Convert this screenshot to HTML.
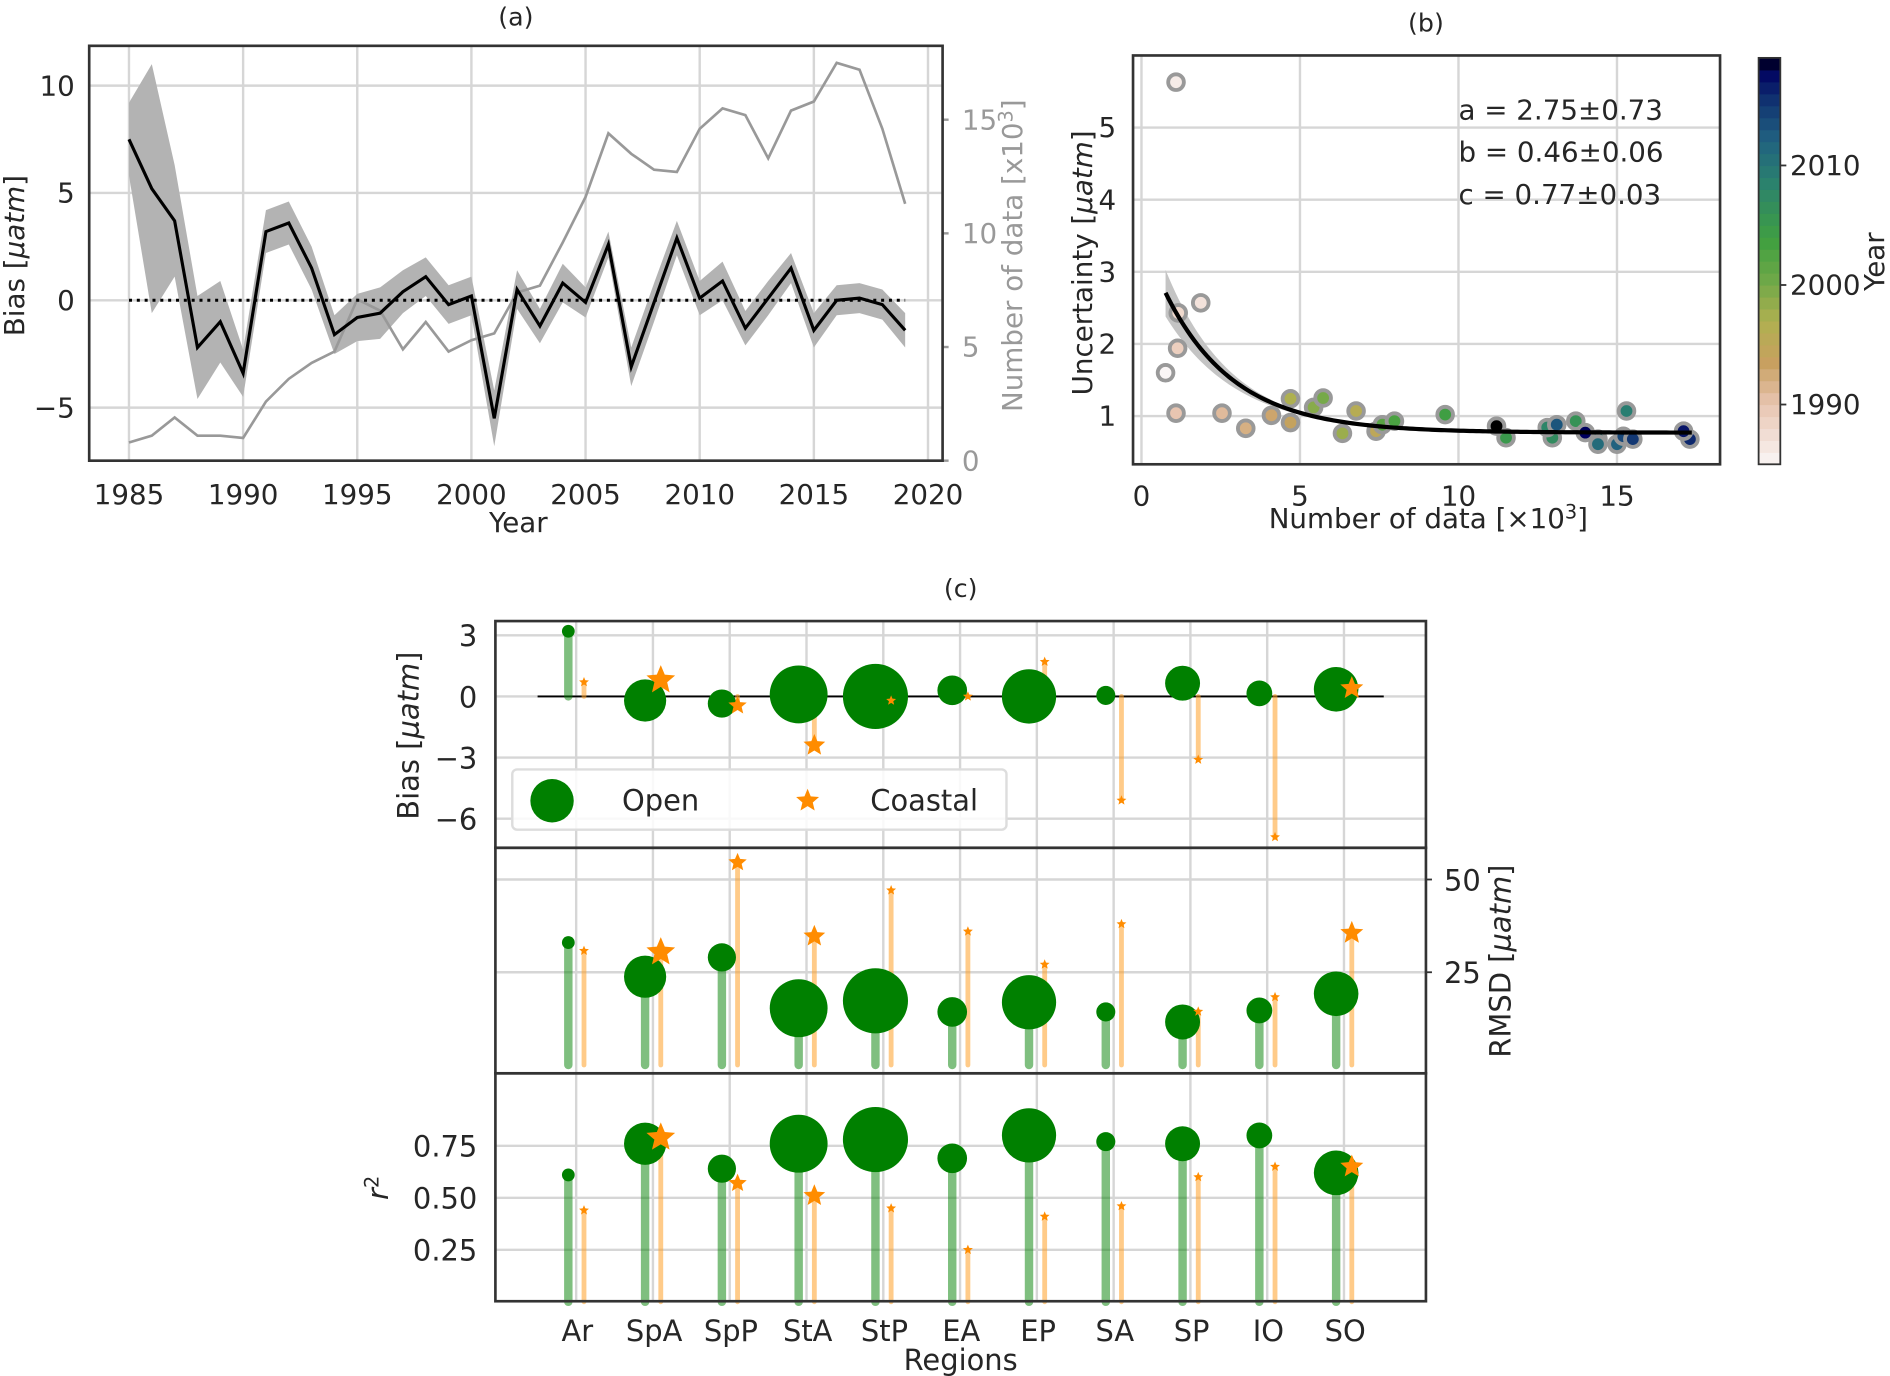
<!DOCTYPE html>
<html><head><meta charset="utf-8"><style>
html,body{margin:0;padding:0;background:#fff}
svg{display:block}
text{font-family:"DejaVu Sans","Liberation Sans",sans-serif;fill:#262626}
</style></head><body>
<svg id="fig" xmlns="http://www.w3.org/2000/svg" width="1890" height="1376" viewBox="0 0 1568 1141" preserveAspectRatio="none"></svg>
<script>
// ---------- Panel (a) data ----------
const years = [1985,1986,1987,1988,1989,1990,1991,1992,1993,1994,1995,1996,1997,1998,1999,2000,2001,2002,2003,2004,2005,2006,2007,2008,2009,2010,2011,2012,2013,2014,2015,2016,2017,2018,2019];
const biasVals = [7.5,5.2,3.7,-2.2,-1.0,-3.4,3.2,3.6,1.5,-1.6,-0.8,-0.6,0.4,1.1,-0.2,0.2,-5.5,0.5,-1.2,0.8,-0.1,2.6,-3.1,-0.1,2.9,0.1,0.9,-1.3,0.1,1.5,-1.4,0.0,0.1,-0.2,-1.4];
const biasErr = [1.7,5.8,2.6,2.4,1.9,1.1,1.0,1.0,1.0,0.9,1.1,1.2,1.0,0.9,0.9,0.9,1.3,0.9,0.8,0.9,0.7,0.6,0.9,0.9,0.8,0.8,0.9,0.8,0.8,0.7,0.8,0.7,0.7,0.7,0.8];
const countVals = [0.8,1.1,1.9,1.1,1.1,1.0,2.6,3.6,4.3,4.8,7.1,6.6,4.9,6.1,4.8,5.3,5.6,7.4,7.7,9.6,11.6,14.4,13.5,12.8,12.7,14.6,15.5,15.2,13.3,15.4,15.8,17.5,17.2,14.6,11.3];
const aLeftTicks = [-5,0,5,10];
const aRightTicks = [0,5,10,15];
const aXTicks = [1985,1990,1995,2000,2005,2010,2015,2020];
// ---------- Panel (b) data ----------
const ptsX = [0.76,1.09,1.87,1.16,1.14,1.09,2.54,3.29,4.1,4.7,7.4,6.77,4.7,6.34,5.43,5.73,7.6,7.98,9.58,11.5,13.7,12.96,12.8,15.3,14.4,14.4,15.0,13.1,15.2,15.5,17.3,17.1,14.0,11.2];
const ptsY = [1.60,5.63,2.57,2.43,1.94,1.04,1.04,0.83,1.01,0.91,0.79,1.07,1.24,0.76,1.12,1.25,0.88,0.93,1.02,0.70,0.93,0.70,0.84,1.07,0.68,0.61,0.61,0.88,0.72,0.68,0.68,0.79,0.77,0.86];
const ptsYear = [1985,1986,1987,1988,1989,1990,1991,1992,1993,1994,1995,1996,1997,1998,1999,2000,2002,2003,2004,2005,2006,2007,2008,2009,2010,2011,2012,2013,2014,2015,2016,2017,2018,2019];
const fitA = 2.75, fitB = 0.46, fitC = 0.77;
const bXTicks = [0,5,10,15];
const bYTicks = [1,2,3,4,5];
const cbTicks = [1990,2000,2010];
// ---------- Panel (c) data ----------
const regions = ["Ar","SpA","SpP","StA","StP","EA","EP","SA","SP","IO","SO"];
const openBias = [3.2,-0.2,-0.35,0.1,0.0,0.3,0.0,0.05,0.65,0.15,0.35];
const coastBias = [0.7,0.8,-0.45,-2.4,-0.2,0.0,1.7,-5.1,-3.1,-6.9,0.4];
const openRmsd = [33,23.8,29,15.3,17.3,14.3,16.9,14.3,11.6,14.7,19.2];
const coastRmsd = [30.8,30.4,54.6,34.7,47.1,36,27.1,38,14.4,18.3,35.6];
const openR2 = [0.61,0.76,0.64,0.76,0.78,0.69,0.80,0.77,0.76,0.80,0.62];
const coastR2 = [0.44,0.79,0.57,0.51,0.45,0.25,0.41,0.46,0.60,0.65,0.65];
const openSize = [5.3,17.5,11.7,24,27,12.3,22.5,7.9,14.5,10.7,18.5];
const coastSize = [4.3,12.5,8,9.5,4.3,4.3,4.3,4.3,4.3,4.3,10];
const biasTicks = [3,0,-3,-6];
const rmsdTicks = [25,50];
const r2Ticks = [0.25,0.5,0.75];

const NS="http://www.w3.org/2000/svg";
const svg=document.getElementById('fig');
function el(tag,attrs,parent){const e=document.createElementNS(NS,tag);for(const k in attrs)e.setAttribute(k,attrs[k]);(parent||svg).appendChild(e);return e;}
function txt(s,attrs,parent){const e=el('text',attrs,parent);e.textContent=s;return e;}
const GRID="#d6d6d6";

// ================= Panel (a) =================
const A={x0:74,x1:782,y0:38,y1:382};
const ax=y=>107+(y-1985)*18.94;
const ayL=v=>249-v*17.8;
const ayR=v=>382-v*18.85;
const gA=el('g',{});


aXTicks.forEach(t=>{const l=el('line',{x1:ax(t),x2:ax(t),y1:A.y0,y2:A.y1,stroke:GRID,'stroke-width':2},gA);
 const tl=txt(String(t),{x:ax(t),y:418,'text-anchor':'middle','font-size':23},gA);});
aLeftTicks.forEach(t=>{const l=el('line',{x1:A.x0,x2:A.x1,y1:ayL(t),y2:ayL(t),stroke:GRID,'stroke-width':2},gA);
 const tl=txt(t<0?'\u2212'+(-t):String(t),{x:62,y:ayL(t)+8,'text-anchor':'end','font-size':23},gA);});
aRightTicks.forEach(t=>{const tl=txt(String(t),{x:798,y:ayR(t)+8,'text-anchor':'start','font-size':23,style:'fill:#999'},gA);
 el('line',{x1:A.x1,x2:A.x1+5,y1:ayR(t),y2:ayR(t),stroke:'#999','stroke-width':2},gA);});
let up=years.map((y,i)=>ax(y)+','+ayL(biasVals[i]+biasErr[i]));
let lo=years.map((y,i)=>ax(y)+','+ayL(biasVals[i]-biasErr[i])).reverse();
const band=el('polygon',{points:up.concat(lo).join(' '),fill:'#b3b3b3'},gA);

const cl=el('polyline',{points:years.map((y,i)=>ax(y)+','+ayR(countVals[i])).join(' '),fill:'none',stroke:'#999','stroke-width':2.2},gA);

const zl=el('line',{x1:ax(1985),x2:ax(2019),y1:ayL(0),y2:ayL(0),stroke:'#000','stroke-width':2.5,'stroke-dasharray':'2.5,4'},gA);

const bl=el('polyline',{points:years.map((y,i)=>ax(y)+','+ayL(biasVals[i])).join(' '),fill:'none',stroke:'#000','stroke-width':2.6},gA);

const fa=el('rect',{x:A.x0,y:A.y0,width:A.x1-A.x0,height:A.y1-A.y0,fill:'none',stroke:'#333','stroke-width':2.2},gA);

let t;
t=txt('(a)',{x:428,y:21,'text-anchor':'middle','font-size':21},gA);
t=txt('Year',{x:430,y:441,'text-anchor':'middle','font-size':23},gA);
t=el('text',{x:0,y:0,'text-anchor':'middle','font-size':23,transform:'translate(20,212) rotate(-90)'},gA);t.innerHTML='Bias [<tspan font-style="italic">μatm</tspan>]';
t=el('text',{x:0,y:0,'text-anchor':'middle','font-size':23,transform:'translate(848,212) rotate(-90)',style:'fill:#999'},gA);t.innerHTML='Number of data [x10<tspan dy="-8" font-size="16">3</tspan><tspan dy="8">]</tspan>';

// ================= Panel (b) =================
const B={x0:940,x1:1427,y0:46,y1:385};
const bx=v=>947+v*26.3;
const by=v=>345-(v-1)*59.8;
const gB=el('g',{});

bXTicks.forEach(v=>{const l=el('line',{x1:bx(v),x2:bx(v),y1:B.y0,y2:B.y1,stroke:GRID,'stroke-width':2},gB);
 const tl=txt(String(v),{x:bx(v),y:419,'text-anchor':'middle','font-size':23},gB);});
bYTicks.forEach(v=>{const l=el('line',{x1:B.x0,x2:B.x1,y1:by(v),y2:by(v),stroke:GRID,'stroke-width':2},gB);
 const tl=txt(String(v),{x:926,y:by(v)+8,'text-anchor':'end','font-size':23},gB);});
const xs=[];for(let v=0.76;v<=17.4;v+=0.1)xs.push(v);
const f=(a,b,v)=>a*Math.exp(-b*v)+fitC;
const bandB=el('polygon',{points:xs.map(v=>bx(v)+','+by(f(fitA+0.5,fitB+0.02,v))).concat(xs.slice().reverse().map(v=>bx(v)+','+by(f(fitA-0.5,fitB-0.02,v)))).join(' '),fill:'#c4c4c4'},gB);

const stops=[[0,[250,246,246]],[0.15,[232,196,176]],[0.25,[200,160,96]],[0.35,[176,176,80]],[0.45,[112,168,72]],[0.55,[64,160,64]],[0.7,[42,128,112]],[0.8,[32,96,128]],[0.9,[16,48,112]],[0.97,[0,0,96]],[1,[0,0,0]]];
function cmap(yr){const tt=Math.max(0,Math.min(1,(yr-1985)/34));for(let i=1;i<stops.length;i++){if(tt<=stops[i][0]){const a=stops[i-1],b=stops[i];const r=(tt-a[0])/(b[0]-a[0]);return 'rgb('+a[1].map((c,k)=>Math.round(c+(b[1][k]-c)*r)).join(',')+')';}}return '#000';}
ptsX.forEach((v,i)=>{const c=el('circle',{cx:bx(v),cy:by(ptsY[i]),r:6.5,fill:cmap(ptsYear[i]),stroke:'#999','stroke-width':3.2},gB);
 });
const fitL=el('polyline',{points:xs.map(v=>bx(v)+','+by(f(fitA,fitB,v))).join(' '),fill:'none',stroke:'#000','stroke-width':3.5},gB);

const fb=el('rect',{x:B.x0,y:B.y0,width:B.x1-B.x0,height:B.y1-B.y0,fill:'none',stroke:'#333','stroke-width':2.2},gB);

t=txt('(b)',{x:1183,y:26,'text-anchor':'middle','font-size':21},gB);
['a = 2.75\u00b10.73','b = 0.46\u00b10.06','c = 0.77\u00b10.03'].forEach((s,i)=>{const tl=txt(s,{x:1210,y:99+i*35,'font-size':23},gB);});
t=el('text',{x:1185,y:438,'text-anchor':'middle','font-size':23},gB);t.innerHTML='Number of data [\u00d710<tspan dy="-8" font-size="16">3</tspan><tspan dy="8">]</tspan>';
t=el('text',{x:0,y:0,'text-anchor':'middle','font-size':23,transform:'translate(906,218) rotate(-90)'},gB);t.innerHTML='Uncertainty [<tspan font-style="italic">μatm</tspan>]';
const cbY=yr=>385-(yr-1985)*(337/34);
const cg=el('g',{},gB);
for(let yr=1985;yr<2019;yr++){el('rect',{x:1459,y:cbY(yr+1),width:18,height:cbY(yr)-cbY(yr+1)+0.5,fill:cmap(yr+0.5)},cg);}
el('rect',{x:1459,y:48,width:18,height:337,fill:'none',stroke:'#333','stroke-width':1.5},cg);
cbTicks.forEach(yr=>{el('line',{x1:1477,x2:1482,y1:cbY(yr),y2:cbY(yr),stroke:'#333','stroke-width':1.5},cg);
 const tl=txt(String(yr),{x:1485,y:cbY(yr)+8,'font-size':23},cg);});
t=txt('Year',{x:0,y:0,'text-anchor':'middle','font-size':23,transform:'translate(1563,217) rotate(-90)'},cg);

// ================= Panel (c) =================
const C={x0:411,x1:1183};
const P1={y0:515,y1:703},P2={y0:703,y1:890},P3={y0:890,y1:1079};
const cx=i=>478+i*63.7;
const y1=v=>577.5-v*16.9;
const y2=v=>883.1-v*3.076;
const y3=v=>1079.5-v*172.5;
const gC=el('g',{});
[P1,P2,P3].forEach(P=>{regions.forEach((r,i)=>{const l=el('line',{x1:cx(i),x2:cx(i),y1:P.y0,y2:P.y1,stroke:GRID,'stroke-width':2},gC);});});
biasTicks.forEach(v=>{el('line',{x1:C.x0,x2:C.x1,y1:y1(v),y2:y1(v),stroke:GRID,'stroke-width':2},gC);
 const tl=txt(v<0?'\u2212'+(-v):String(v),{x:396,y:y1(v)+9,'text-anchor':'end','font-size':24},gC);});
rmsdTicks.forEach(v=>{el('line',{x1:C.x0,x2:C.x1,y1:y2(v),y2:y2(v),stroke:GRID,'stroke-width':2},gC);
 el('line',{x1:C.x1,x2:C.x1+5,y1:y2(v),y2:y2(v),stroke:'#333','stroke-width':1.5},gC);
 const tl=txt(String(v),{x:1198,y:y2(v)+9,'font-size':24},gC);});
r2Ticks.forEach(v=>{el('line',{x1:C.x0,x2:C.x1,y1:y3(v),y2:y3(v),stroke:GRID,'stroke-width':2},gC);
 const tl=txt(v.toFixed(2),{x:396,y:y3(v)+9,'text-anchor':'end','font-size':24},gC);});
const zc=el('line',{x1:446,x2:1148,y1:y1(0),y2:y1(0),stroke:'#000','stroke-width':1.5},gC);
function star(x,y,R){const p=[];for(let k=0;k<10;k++){const r=k%2?R*0.45:R;const a=-Math.PI/2+k*Math.PI/5;p.push((x+r*Math.cos(a)).toFixed(1)+','+(y+r*Math.sin(a)).toFixed(1));}return p.join(' ');}
function drawPanel(openV,coastV,yf,base,name){
 regions.forEach((r,i)=>{
  const gx=cx(i)-6.5,ox=cx(i)+6.5;
  const s1=el('line',{x1:gx,x2:gx,y1:yf(base),y2:yf(openV[i]),stroke:'rgba(0,128,0,0.5)','stroke-width':7,'stroke-linecap':'round'},gC);
  
  const s2=el('line',{x1:ox,x2:ox,y1:yf(base),y2:yf(coastV[i]),stroke:'rgba(255,160,40,0.55)','stroke-width':4,'stroke-linecap':'round'},gC);
  
  const c=el('circle',{cx:gx,cy:yf(openV[i]),r:openSize[i],fill:'#008000'},gC);
  
  const s=el('polygon',{points:star(ox,yf(coastV[i]),coastSize[i]),fill:'#ff8c00'},gC);
  
 });}
drawPanel(openBias,coastBias,y1,0,'bias');
drawPanel(openRmsd,coastRmsd,y2,0,'rmsd');
drawPanel(openR2,coastR2,y3,0,'r2');
[P1,P2,P3].forEach(P=>{const fr=el('rect',{x:C.x0,y:P.y0,width:C.x1-C.x0,height:P.y1-P.y0,fill:'none',stroke:'#333','stroke-width':2.2},gC);});
const lg=el('g',{},gC);
el('rect',{x:425,y:638,width:410,height:50,rx:4,fill:'rgba(255,255,255,0.85)',stroke:'#ddd','stroke-width':2},lg);
el('circle',{cx:458,cy:664,r:18,fill:'#008000'},lg);
t=txt('Open',{x:516,y:672,'font-size':24},lg);
el('polygon',{points:star(670,664,10),fill:'#ff8c00'},lg);
t=txt('Coastal',{x:722,y:672,'font-size':24},lg);
regions.forEach((r,i)=>{const tl=txt(r,{x:cx(i)+1,y:1112,'text-anchor':'middle','font-size':24},gC);});
t=txt('Regions',{x:797,y:1136,'text-anchor':'middle','font-size':24},gC);
t=txt('(c)',{x:797,y:495,'text-anchor':'middle','font-size':21},gC);
t=el('text',{x:0,y:0,'text-anchor':'middle','font-size':24,transform:'translate(347,610) rotate(-90)'},gC);t.innerHTML='Bias [<tspan font-style="italic">μatm</tspan>]';
t=el('text',{x:0,y:0,'text-anchor':'middle','font-size':24,transform:'translate(1253,797) rotate(-90)'},gC);t.innerHTML='RMSD [<tspan font-style="italic">μatm</tspan>]';
t=el('text',{x:0,y:0,'text-anchor':'middle','font-size':24,transform:'translate(322,985) rotate(-90)'},gC);t.innerHTML='<tspan font-style="italic">r</tspan><tspan dy="-8" font-size="16">2</tspan>';
</script>
</body></html>
